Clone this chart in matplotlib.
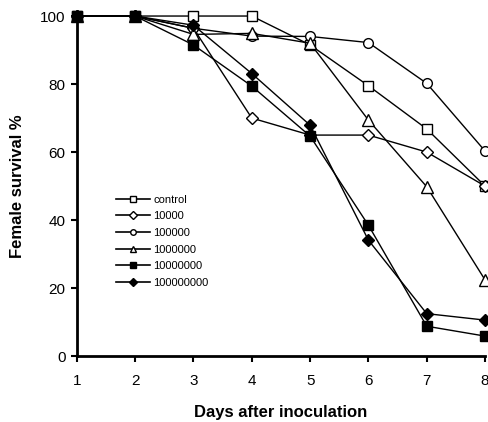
import matplotlib
matplotlib.use("Agg")
import matplotlib.pyplot as plt
from matplotlib.lines import Line2D

plt.rcParams['font.family'] = ['Liberation Sans', 'DejaVu Sans']

days = [1, 2, 3, 4, 5, 6, 7, 8]
labels = ['control', '10000', '100000', '1000000', '10000000', '100000000']
control = [100, 100, 100, 100, 91.5, 79.5, 66.8, 50]
d10000 = [100, 100, 96.4, 70, 65, 65, 60, 50]
d100000 = [100, 100, 96.4, 94.1, 94, 92.2, 80.2, 60.3]
d1000000 = [100, 100, 94.6, 94.9, 92, 69.4, 49.8, 22.4]
d10000000 = [100, 100, 91.5, 79.4, 64.7, 38.5, 8.8, 5.9]
d100000000 = [100, 100, 97.3, 83.1, 67.9, 34.1, 12.5, 10.6]

series = [control, d10000, d100000, d1000000, d10000000, d100000000]
markers = ['s', 'D', 'o', '^', 's', 'D']
faces = ['white', 'white', 'white', 'white', 'black', 'black']
sizes = [7, 6, 7, 8, 7, 6]

fig = plt.figure(figsize=(4.89, 4.22), dpi=100)
ax = fig.add_axes([0.157, 0.156, 0.835, 0.806])

for vals, m, fc, ms in zip(series, markers, faces, sizes):
    ax.plot(days, vals, color='black', lw=1, marker=m, markerfacecolor=fc,
            markeredgecolor='black', markersize=ms, markeredgewidth=1, clip_on=False)

ax.set_xlim(1, 8)
ax.set_ylim(0, 100)
ax.set_xticks(days)
ax.set_yticks([0, 20, 40, 60, 80, 100])
ax.spines['top'].set_visible(False)
ax.spines['right'].set_visible(False)
ax.spines['left'].set_linewidth(2)
ax.spines['bottom'].set_linewidth(2)
ax.tick_params(axis='both', direction='out', length=4, width=1.5, labelsize=11)
ax.tick_params(axis='x', pad=9)
ax.tick_params(axis='y', pad=4)
ax.set_xlabel('Days after inoculation', fontsize=12, fontweight='bold', labelpad=12)
ax.set_ylabel('Female survival %', fontsize=12, fontweight='bold', labelpad=11)

handles = [Line2D([], [], color='black', lw=1.2, marker=m, markerfacecolor=fc,
                  markeredgecolor='black', markersize=4)
           for m, fc in zip(markers, faces)]
fig.legend(handles, labels, loc='upper left', bbox_to_anchor=(110 / 489, 1 - 189 / 422),
           frameon=False, fontsize=8, handlelength=3.1, handletextpad=0.3,
           labelspacing=0.6, borderpad=0)

fig.savefig('out.png', dpi=100)
